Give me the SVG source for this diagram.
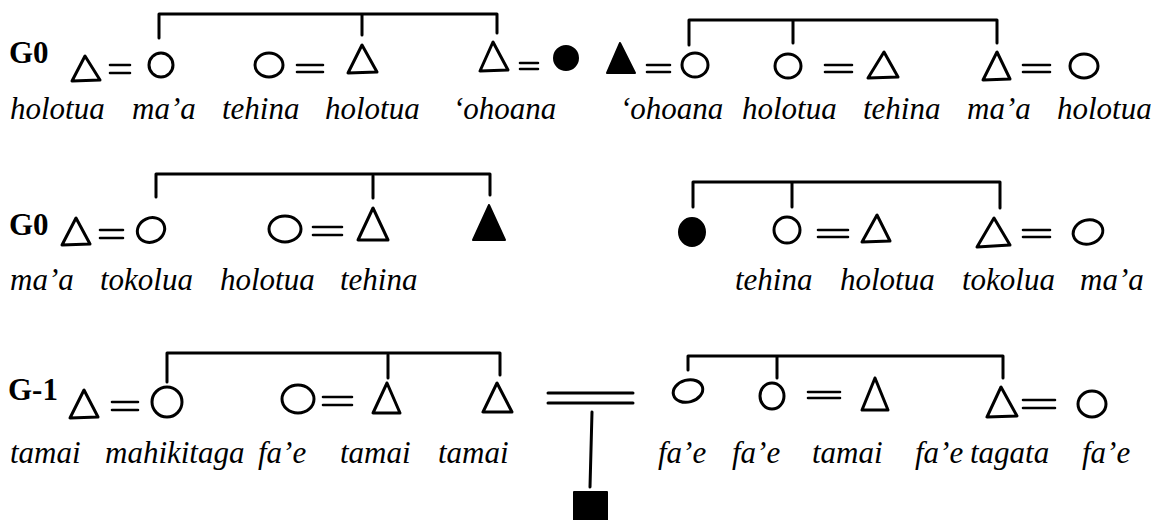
<svg xmlns="http://www.w3.org/2000/svg" width="1162" height="520" viewBox="0 0 1162 520">
<style>
.bg{fill:#ffffff}
.ln{fill:none;stroke:#000;stroke-width:3;stroke-linecap:round;stroke-linejoin:round}
.eq{fill:none;stroke:#000;stroke-width:2.6;stroke-linecap:round}
.open{fill:#fff;stroke:#000;stroke-width:3;stroke-linejoin:round}
.solid{fill:#000;stroke:#000;stroke-width:2;stroke-linejoin:round}
.gen{font-family:"Liberation Serif","Times New Roman",serif;font-weight:bold;font-size:31px;fill:#000}
.lbl{font-family:"Liberation Serif","Times New Roman",serif;font-style:italic;font-size:31px;fill:#000}
</style>
<rect class="bg" x="0" y="0" width="1162" height="520"/>

<g id="connectors">
  <!-- row 1 sibling brackets -->
  <path class="ln" d="M159,38 V14 H497 V33 M362,14 V35"/>
  <path class="ln" d="M689,45 V20 H997 V43 M793,21 V43"/>
  <!-- row 2 sibling brackets -->
  <path class="ln" d="M156,197 V174 H490 V195 M373,176 V198"/>
  <path class="ln" d="M693,207 V182 H1000 V208 M792,183 V207"/>
  <!-- row 3 sibling brackets -->
  <path class="ln" d="M167,382 V353 H500 V375 M388,355 V378"/>
  <path class="ln" d="M688,370 V356 H1003 V378 M777,356 V378"/>
  <!-- marriage signs row 1 -->
  <path class="eq" d="M110,65 H130 M110,73 H130"/>
  <path class="eq" d="M297,65 H323 M297,72 H323"/>
  <path class="eq" d="M520,63 H538 M520,69 H538"/>
  <path class="eq" d="M647,65 H670 M647,72 H670"/>
  <path class="eq" d="M825,65 H852 M825,72 H852"/>
  <path class="eq" d="M1023,65 H1050 M1023,72 H1050"/>
  <!-- marriage signs row 2 -->
  <path class="eq" d="M100,230 H123 M100,238 H123"/>
  <path class="eq" d="M313,227 H342 M313,235 H342"/>
  <path class="eq" d="M818,230 H848 M818,237 H848"/>
  <path class="eq" d="M1023,230 H1050 M1023,237 H1050"/>
  <!-- marriage signs row 3 -->
  <path class="eq" d="M112,402 H138 M112,410 H138"/>
  <path class="eq" d="M323,397 H352 M323,405 H352"/>
  <path class="eq" d="M808,392 H840 M808,398 H840"/>
  <path class="eq" d="M1023,400 H1055 M1023,408 H1055"/>
  <!-- central marriage and descent -->
  <path class="ln" d="M548,393 H633 M548,403 H633"/>
  <path class="ln" d="M592,412 L590,487"/>
</g>

<g id="generation-labels">
  <text class="gen" x="9" y="63">G0</text>
  <text class="gen" x="9" y="235">G0</text>
  <text class="gen" x="8" y="400">G-1</text>
</g>

<!-- Row 1 nodes -->
<g id="r1-m1"><polygon class="open" points="72,81 100,80 85,56"/></g>
<g id="r1-f1"><ellipse class="open" cx="161" cy="65" rx="12" ry="12"/></g>
<g id="r1-f2"><ellipse class="open" cx="269" cy="65" rx="14" ry="12"/></g>
<g id="r1-m2"><polygon class="open" points="348,73 377,72 362,45"/></g>
<g id="r1-m3"><polygon class="open" points="480,71 508,70 493,42"/></g>
<g id="r1-f3"><circle class="solid" cx="566" cy="58" r="12"/></g>
<g id="r1-m4"><polygon class="solid" points="607,73 635,73 620,43"/></g>
<g id="r1-f4"><ellipse class="open" cx="695" cy="65" rx="13" ry="12"/></g>
<g id="r1-f5"><ellipse class="open" cx="788" cy="66" rx="13" ry="12"/></g>
<g id="r1-m5"><polygon class="open" points="868,78 898,77 884,52"/></g>
<g id="r1-m6"><polygon class="open" points="983,80 1010,79 997,52"/></g>
<g id="r1-f6"><ellipse class="open" cx="1084" cy="66" rx="14" ry="12"/></g>

<!-- Row 2 nodes -->
<g id="r2-m1"><polygon class="open" points="62,245 90,244 76,218"/></g>
<g id="r2-f1"><ellipse class="open" cx="151" cy="230" rx="14" ry="12" transform="rotate(-25 151 230)"/></g>
<g id="r2-f2"><ellipse class="open" cx="285" cy="229" rx="16" ry="13"/></g>
<g id="r2-m2"><polygon class="open" points="358,240 388,240 373,208"/></g>
<g id="r2-m3"><polygon class="solid" points="473,240 505,240 489,205"/></g>
<g id="r2-f3"><ellipse class="solid" cx="692" cy="232" rx="13" ry="14"/></g>
<g id="r2-f4"><ellipse class="open" cx="787" cy="230" rx="13" ry="13"/></g>
<g id="r2-m4"><polygon class="open" points="862,242 890,241 877,215"/></g>
<g id="r2-m5"><polygon class="open" points="977,247 1010,245 994,218"/></g>
<g id="r2-f5"><ellipse class="open" cx="1088" cy="232" rx="15" ry="12" transform="rotate(-15 1088 232)"/></g>

<!-- Row 3 nodes -->
<g id="r3-m1"><polygon class="open" points="70,418 98,417 84,390"/></g>
<g id="r3-f1"><circle class="open" cx="167" cy="402" r="15"/></g>
<g id="r3-f2"><ellipse class="open" cx="298" cy="399" rx="16" ry="14"/></g>
<g id="r3-m2"><polygon class="open" points="373,413 400,413 387,383"/></g>
<g id="r3-m3"><polygon class="open" points="483,412 512,412 497,383"/></g>
<g id="r3-ego"><rect class="solid" x="574" y="492" width="33" height="32"/></g>
<g id="r3-f3"><ellipse class="open" cx="688" cy="391" rx="15" ry="11" transform="rotate(-15 688 391)"/></g>
<g id="r3-f4"><ellipse class="open" cx="772" cy="396" rx="12" ry="13"/></g>
<g id="r3-m4"><polygon class="open" points="862,410 888,410 875,378"/></g>
<g id="r3-m5"><polygon class="open" points="987,417 1017,416 1001,387"/></g>
<g id="r3-f5"><ellipse class="open" cx="1092" cy="404" rx="14" ry="13"/></g>

<g id="labels">
  <text class="lbl" x="10" y="119">holotua</text>
  <text class="lbl" x="132" y="119">ma’a</text>
  <text class="lbl" x="222" y="119">tehina</text>
  <text class="lbl" x="325" y="119">holotua</text>
  <text class="lbl" x="453" y="119">‘ohoana</text>
  <text class="lbl" x="620" y="119">‘ohoana</text>
  <text class="lbl" x="742" y="119">holotua</text>
  <text class="lbl" x="863" y="119">tehina</text>
  <text class="lbl" x="967" y="119">ma’a</text>
  <text class="lbl" x="1057" y="119">holotua</text>

  <text class="lbl" x="10" y="290">ma’a</text>
  <text class="lbl" x="100" y="290">tokolua</text>
  <text class="lbl" x="220" y="290">holotua</text>
  <text class="lbl" x="340" y="290">tehina</text>
  <text class="lbl" x="735" y="290">tehina</text>
  <text class="lbl" x="840" y="290">holotua</text>
  <text class="lbl" x="962" y="290">tokolua</text>
  <text class="lbl" x="1080" y="290">ma’a</text>

  <text class="lbl" x="10" y="463">tamai</text>
  <text class="lbl" x="105" y="463">mahikitaga</text>
  <text class="lbl" x="258" y="463">fa’e</text>
  <text class="lbl" x="340" y="463">tamai</text>
  <text class="lbl" x="438" y="463">tamai</text>
  <text class="lbl" x="658" y="463">fa’e</text>
  <text class="lbl" x="732" y="463">fa’e</text>
  <text class="lbl" x="812" y="463">tamai</text>
  <text class="lbl" x="915" y="463">fa’e</text>
  <text class="lbl" x="970" y="463">tagata</text>
  <text class="lbl" x="1082" y="463">fa’e</text>
</g>
</svg>
